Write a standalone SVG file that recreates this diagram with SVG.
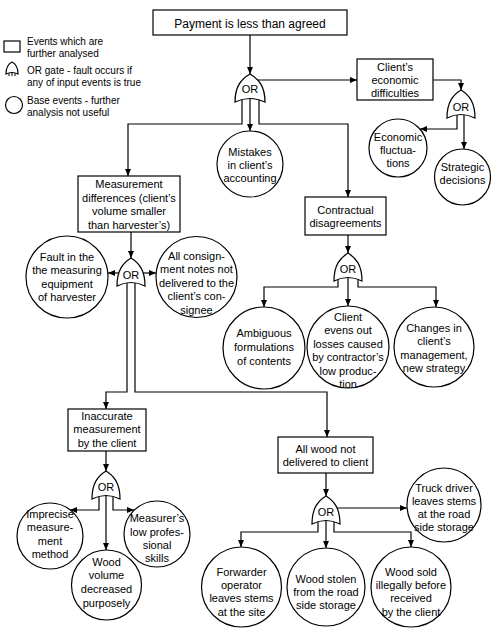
<svg xmlns="http://www.w3.org/2000/svg" xmlns:xlink="http://www.w3.org/1999/xlink" width="500" height="638" viewBox="0 0 500 638">
<style>
.shape{fill:#fff;stroke:#000;stroke-width:1.2}
.conn{fill:none;stroke:#000;stroke-width:1.2;marker-end:url(#arr)}
.t{font-family:"Liberation Sans",Arial,sans-serif;font-size:11px;text-anchor:middle;fill:#000}
.title{font-size:12px}
.lg{font-family:"Liberation Sans",Arial,sans-serif;font-size:10px;fill:#000}
.leg{fill:none;stroke:#000;stroke-width:1}
</style>
<defs>
<marker id="arr" markerUnits="userSpaceOnUse" markerWidth="7" markerHeight="6" refX="7" refY="3" orient="auto">
<path d="M0,0 L7,3 L0,6 z" fill="#000"/>
</marker>
<path id="gate" d="M0,0 C8,5 14,12 14,28 Q0,21 -14,28 C-14,12 -8,5 0,0 Z"/>
</defs>
<rect width="500" height="638" fill="#fff"/>

<g id="legend">
<rect class="shape" x="4" y="41" width="16" height="11"/>
<text class="lg" x="27" y="45">Events which are</text>
<text class="lg" x="27" y="57">further analysed</text>
<path class="shape" d="M12,62 C16,64 18,67 18,74 Q12,71 6,74 C6,67 8,64 12,62 Z"/>
<path class="leg" d="M9,73 V76 M12,72 V76 M15,73 V76"/>
<text class="lg" x="27" y="74">OR gate - fault occurs if</text>
<text class="lg" x="27" y="86">any of input events is true</text>
<circle class="shape" cx="14" cy="105" r="8.5"/>
<text class="lg" x="27" y="104">Base events - further</text>
<text class="lg" x="27" y="116">analysis not useful</text>
</g>

<g id="connectors">
<path class="conn" d="M250,35 V74"/>
<path class="conn" d="M250,80 H357"/>
<path class="conn" d="M433,80 H461 V90"/>
<path class="conn" d="M250,95 V131"/>
<path class="conn" d="M242,95 V124 H128 V176"/>
<path class="conn" d="M259,95 V124 H348 V197"/>
<path class="conn" d="M457,112 V129 H420"/>
<path class="conn" d="M464,112 V149"/>
<path class="conn" d="M131,232 V258"/>
<path class="conn" d="M131,273 H108"/>
<path class="conn" d="M131,273 H156"/>
<path class="conn" d="M127,280 V392 H106 V409"/>
<path class="conn" d="M135,280 V392 H327 V437"/>
<path class="conn" d="M348,235 V253"/>
<path class="conn" d="M338,278 V287 H264 V307"/>
<path class="conn" d="M348,278 V306"/>
<path class="conn" d="M358,278 V287 H436 V307"/>
<path class="conn" d="M106,451 V471"/>
<path class="conn" d="M99,494 V510 H70"/>
<path class="conn" d="M106,494 V550"/>
<path class="conn" d="M113,494 V510 H134"/>
<path class="conn" d="M326,473 V496"/>
<path class="conn" d="M326,508 H407"/>
<path class="conn" d="M318,518 V532 H241 V547"/>
<path class="conn" d="M326,518 V548"/>
<path class="conn" d="M334,518 V532 H411 V547"/>
</g>

<g id="payment">
<rect class="shape" x="153" y="10" width="194" height="25"/>
<text class="t title" x="250" y="28">Payment is less than agreed</text>
</g>

<g id="gate-main">
<use href="#gate" class="shape" transform="translate(250,74) scale(1.07,1)"/>
<text class="t" x="250" y="93">OR</text>
</g>

<g id="economic-difficulties">
<rect class="shape" x="357" y="59" width="76" height="41"/>
<text class="t" x="395" y="71">Client’s</text>
<text class="t" x="395" y="84">economic</text>
<text class="t" x="395" y="97">difficulties</text>
</g>

<g id="gate-economic">
<use href="#gate" class="shape" transform="translate(461,90)"/>
<text class="t" x="461" y="111">OR</text>
</g>

<g id="economic-fluctuations">
<circle class="shape" cx="398" cy="148" r="29"/>
<text class="t" x="398" y="141">Economic</text>
<text class="t" x="398" y="154">fluctua-</text>
<text class="t" x="398" y="167">tions</text>
</g>

<g id="strategic-decisions">
<circle class="shape" cx="462.5" cy="177" r="28"/>
<text class="t" x="462.5" y="171">Strategic</text>
<text class="t" x="462.5" y="184">decisions</text>
</g>

<g id="mistakes">
<circle class="shape" cx="250" cy="164" r="33"/>
<text class="t" x="250" y="156">Mistakes</text>
<text class="t" x="250" y="169">in client’s</text>
<text class="t" x="250" y="182">accounting</text>
</g>

<g id="measurement-differences">
<rect class="shape" x="78" y="176" width="102" height="56"/>
<text class="t" x="129" y="188">Measurement</text>
<text class="t" x="129" y="202">differences (client’s</text>
<text class="t" x="129" y="215">volume smaller</text>
<text class="t" x="129" y="229">than harvester’s)</text>
</g>

<g id="gate-measurement">
<use href="#gate" class="shape" transform="translate(131,258)"/>
<text class="t" x="131" y="279">OR</text>
</g>

<g id="fault-equipment">
<circle class="shape" cx="67" cy="277" r="41"/>
<text class="t" x="67" y="261">Fault in the</text>
<text class="t" x="67" y="274">the measuring</text>
<text class="t" x="67" y="288">equipment</text>
<text class="t" x="67" y="301">of harvester</text>
</g>

<g id="consignment-notes">
<circle class="shape" cx="196.5" cy="277" r="40.5"/>
<text class="t" x="196.5" y="260">All consign-</text>
<text class="t" x="196.5" y="273">ment notes not</text>
<text class="t" x="196.5" y="287">delivered to the</text>
<text class="t" x="196.5" y="300">client’s con-</text>
<text class="t" x="196.5" y="314">signee</text>
</g>

<g id="contractual">
<rect class="shape" x="305" y="197" width="81" height="38"/>
<text class="t" x="345.5" y="214">Contractual</text>
<text class="t" x="345.5" y="227">disagreements</text>
</g>

<g id="gate-contractual">
<use href="#gate" class="shape" transform="translate(348,253)"/>
<text class="t" x="348" y="273">OR</text>
</g>

<g id="ambiguous">
<circle class="shape" cx="264" cy="348" r="41"/>
<text class="t" x="264" y="337">Ambiguous</text>
<text class="t" x="264" y="351">formulations</text>
<text class="t" x="264" y="365">of contents</text>
</g>

<g id="client-evens">
<circle class="shape" cx="348" cy="347" r="41"/>
<text class="t" x="348" y="321">Client</text>
<text class="t" x="348" y="334">evens out</text>
<text class="t" x="348" y="348">losses caused</text>
<text class="t" x="348" y="361">by contractor’s</text>
<text class="t" x="348" y="375">low produc-</text>
<text class="t" x="348" y="388">tion</text>
</g>

<g id="changes-management">
<circle class="shape" cx="434" cy="347" r="40"/>
<text class="t" x="434" y="332">Changes in</text>
<text class="t" x="434" y="345">client’s</text>
<text class="t" x="434" y="359">management,</text>
<text class="t" x="434" y="372">new strategy</text>
</g>

<g id="inaccurate">
<rect class="shape" x="68" y="409" width="78" height="42"/>
<text class="t" x="107" y="420">Inaccurate</text>
<text class="t" x="107" y="433">measurement</text>
<text class="t" x="107" y="447">by the client</text>
</g>

<g id="gate-inaccurate">
<use href="#gate" class="shape" transform="translate(106,471)"/>
<text class="t" x="106" y="491">OR</text>
</g>

<g id="imprecise">
<circle class="shape" cx="50" cy="536" r="33"/>
<text class="t" x="50" y="518">Imprecise</text>
<text class="t" x="50" y="531">measure-</text>
<text class="t" x="50" y="545">ment</text>
<text class="t" x="50" y="558">method</text>
</g>

<g id="wood-volume">
<circle class="shape" cx="106.5" cy="585" r="35"/>
<text class="t" x="106.5" y="566">Wood</text>
<text class="t" x="106.5" y="579">volume</text>
<text class="t" x="106.5" y="593">decreased</text>
<text class="t" x="106.5" y="607">purposely</text>
</g>

<g id="measurer-skills">
<circle class="shape" cx="157" cy="534" r="33"/>
<text class="t" x="157" y="522">Measurer’s</text>
<text class="t" x="157" y="536">low profes-</text>
<text class="t" x="157" y="549">sional</text>
<text class="t" x="157" y="562">skills</text>
</g>

<g id="all-wood">
<rect class="shape" x="278" y="437" width="95" height="36"/>
<text class="t" x="325.5" y="453">All wood not</text>
<text class="t" x="325.5" y="466">delivered to client</text>
</g>

<g id="gate-wood">
<use href="#gate" class="shape" transform="translate(326,496)"/>
<text class="t" x="326" y="516">OR</text>
</g>

<g id="truck-driver">
<circle class="shape" cx="444" cy="505" r="37"/>
<text class="t" x="444" y="492">Truck driver</text>
<text class="t" x="444" y="505">leaves stems</text>
<text class="t" x="444" y="518">at the road</text>
<text class="t" x="444" y="531">side storage</text>
</g>

<g id="forwarder">
<circle class="shape" cx="241.5" cy="587" r="40"/>
<text class="t" x="241.5" y="576">Forwarder</text>
<text class="t" x="241.5" y="589">operator</text>
<text class="t" x="241.5" y="602">leaves stems</text>
<text class="t" x="241.5" y="616">at the site</text>
</g>

<g id="wood-stolen">
<circle class="shape" cx="326" cy="587" r="39"/>
<text class="t" x="326" y="583">Wood stolen</text>
<text class="t" x="326" y="596">from the road</text>
<text class="t" x="326" y="609">side storage</text>
</g>

<g id="wood-sold">
<circle class="shape" cx="411" cy="587" r="40"/>
<text class="t" x="411" y="576">Wood sold</text>
<text class="t" x="411" y="589">illegally before</text>
<text class="t" x="411" y="602">received</text>
<text class="t" x="411" y="616">by the client</text>
</g>
</svg>
